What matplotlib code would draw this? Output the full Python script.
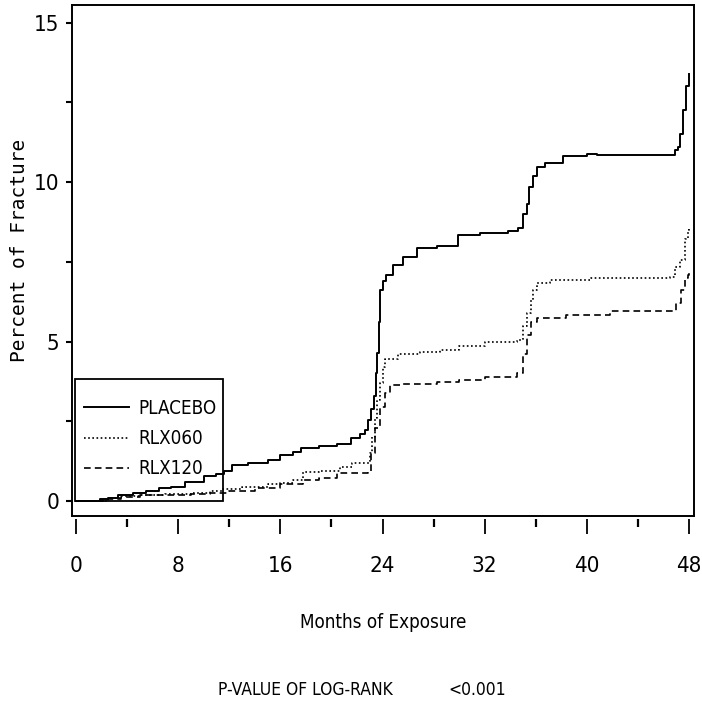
import matplotlib
matplotlib.use("Agg")
import matplotlib.pyplot as plt
from matplotlib.lines import Line2D
from matplotlib.patches import Rectangle
from matplotlib.ticker import MultipleLocator

FAM = ["DejaVu Sans"]
STRETCH = "condensed"

# Kaplan-Meier style cumulative incidence (percent of fracture) by month
placeboT = [0, 1.9, 2.5, 3.3, 4.5, 5.5, 6.5, 7.4, 8.5, 10, 11, 11.6, 12.2, 13.5, 15, 16, 17, 17.6,
            19, 20.4, 21.5, 22.2, 22.6, 22.9, 23.1, 23.3, 23.5, 23.6, 23.7, 23.8, 24.0, 24.3, 24.8,
            25.6, 26.7, 28.3, 29.9, 31.6, 33.8, 34.6, 35.0, 35.3, 35.5, 35.8, 36.1, 36.7, 38.1, 40,
            40.8, 46.5, 46.9, 47.1, 47.3, 47.5, 47.8, 48.0]
placeboV = [0, 0.05, 0.1, 0.19, 0.25, 0.32, 0.4, 0.45, 0.6, 0.78, 0.85, 0.95, 1.12, 1.2, 1.3, 1.44, 1.55, 1.66,
            1.72, 1.79, 1.97, 2.1, 2.22, 2.54, 2.9, 3.3, 4.0, 4.64, 5.6, 6.6, 6.9, 7.08, 7.4,
            7.65, 7.93, 8.0, 8.34, 8.4, 8.46, 8.55, 9.0, 9.3, 9.85, 10.2, 10.47, 10.6, 10.82, 10.88,
            10.84, 10.84, 11.0, 11.1, 11.5, 12.25, 13.0, 13.4]

rlx060T = [0, 2.5, 3.5, 5, 7, 9, 10.5, 11.5, 13, 15, 16, 17, 17.8, 19, 20.7, 21.6, 22.8, 23.0, 23.2,
           23.4, 23.6, 23.8, 24.0, 24.2, 25.2, 26.9, 28.5, 30, 32, 34.5, 35.0, 35.3, 35.6, 35.8, 36.1,
           37.1, 40.3, 46.5, 46.9, 47.3, 47.7, 47.9, 48.0]
rlx060V = [0, 0.08, 0.15, 0.2, 0.22, 0.25, 0.3, 0.37, 0.45, 0.52, 0.56, 0.66, 0.9, 0.95, 1.06, 1.19, 1.19, 1.5, 2.0,
           2.6, 3.17, 3.7, 4.2, 4.45, 4.6, 4.67, 4.73, 4.85, 5.0, 5.05, 5.5, 5.9, 6.3, 6.6, 6.83,
           6.93, 6.98, 7.02, 7.34, 7.55, 8.2, 8.5, 8.6]

rlx120T = [0, 2.5, 3.5, 5, 7, 9, 10.5, 12, 14, 16, 17.8, 19, 20.4, 22.9, 23.1, 23.4, 23.8, 24.2, 24.6,
           25.4, 28.3, 30, 32, 34.5, 35.0, 35.3, 35.6, 36.1, 38.4, 41.8, 46.5, 47.0, 47.4, 47.7, 47.9, 48.0]
rlx120V = [0, 0.05, 0.12, 0.18, 0.2, 0.22, 0.25, 0.3, 0.42, 0.52, 0.65, 0.72, 0.88, 0.91, 1.5, 2.3, 2.95, 3.4, 3.64,
           3.67, 3.73, 3.8, 3.9, 4.0, 4.6, 5.2, 5.6, 5.74, 5.83, 5.95, 5.97, 6.2, 6.6, 7.0, 7.1, 7.2]

seriesNames = ["PLACEBO", "RLX060", "RLX120"]
xTicks = [0, 8, 16, 24, 32, 40, 48]
yTicks = [0, 5, 10, 15]

#%%
fig = plt.figure(figsize=(7.02, 7.04), dpi=100)
ax = fig.add_axes([72 / 702, 188 / 704, 622 / 702, 511 / 704])

ax.plot(placeboT, placeboV, drawstyle="steps-post", color="black", lw=1.4, ls="-", label=seriesNames[0])
ax.plot(rlx060T, rlx060V, drawstyle="steps-post", color="black", lw=1.2, ls=(0, (1, 1.5)), label=seriesNames[1])
ax.plot(rlx120T, rlx120V, drawstyle="steps-post", color="black", lw=1.2, ls=(0, (4, 2.5)), label=seriesNames[2])

ax.set_xlim(-0.313, 48.39)
ax.set_ylim(-0.47, 15.55)

ax.set_xticks(xTicks)
ax.set_yticks(yTicks)
ax.xaxis.set_minor_locator(MultipleLocator(4))
ax.yaxis.set_minor_locator(MultipleLocator(2.5))

# x ticks hang a little below the frame
for s in ["top", "left", "right"]:
    ax.spines[s].set_linewidth(1.4)
ax.spines["bottom"].set_position(("outward", 2))
ax.spines["bottom"].set_visible(False)
ax.add_line(Line2D([0, 1], [0, 0], transform=ax.transAxes, color="black", lw=1.4, clip_on=False))

ax.tick_params(axis="x", which="major", direction="out", length=11, width=1.3, pad=16)
ax.tick_params(axis="x", which="minor", direction="out", length=5.5, width=1.6)
ax.tick_params(axis="y", which="both", direction="out", length=4, width=1.5, pad=5)
for lab in ax.get_xticklabels() + ax.get_yticklabels():
    lab.set_fontfamily(FAM)
    lab.set_fontstretch(STRETCH)
    lab.set_fontsize(16)

ax.set_ylabel("Percent of Fracture", family="DejaVu Sans Mono", fontsize=14)
ax.yaxis.set_label_coords(-0.069, 0.52)
fig.text(383 / 702, 1 - 622 / 704, "Months of Exposure", family=FAM, fontstretch=STRETCH, fontsize=13.5,
         ha="center", va="center")
fig.text(218 / 702, 1 - 690 / 704, "P-VALUE OF LOG-RANK", family=FAM, fontstretch=STRETCH, fontsize=12.5,
         ha="left", va="center")
fig.text(448 / 702, 1 - 690 / 704, "<0.001", family=FAM, fontstretch=STRETCH, fontsize=12.5,
         ha="left", va="center")

# legend entries without frame, frame drawn as its own box
leg = ax.legend(loc="upper left", bbox_to_anchor=(84 / 702, 1 - 399 / 704), bbox_transform=fig.transFigure,
                borderaxespad=0, borderpad=0, prop={"family": FAM, "stretch": STRETCH, "size": 13.5},
                handlelength=2.4, handletextpad=0.5, labelspacing=0.6, frameon=False)
fig.patches.append(Rectangle((75 / 702, 1 - 501 / 704), 148 / 702, 122 / 704, transform=fig.transFigure,
                             fill=False, edgecolor="black", lw=1.3))

plt.savefig("out.png", dpi=100)
